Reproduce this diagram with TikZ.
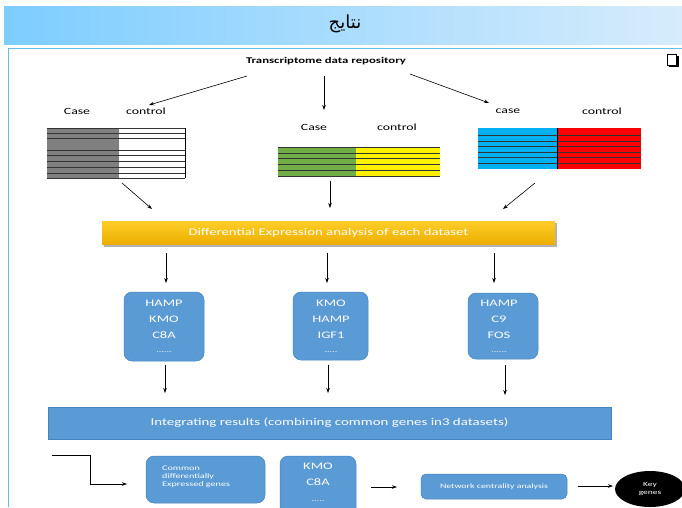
\documentclass[tikz,border=0pt]{standalone}
\usepackage{fontspec}
\setmainfont{Carlito}[FakeStretch=1.45]
\newfontfamily\arabicfont[Script=Arabic]{DejaVu Sans}
\TeXXeTstate=1
\usetikzlibrary{arrows.meta,shapes.geometric}
\definecolor{boxblue}{RGB}{91,155,213}
\definecolor{boxedge}{RGB}{70,130,190}
\definecolor{framecol}{RGB}{100,190,235}
\definecolor{titleL}{RGB}{125,205,255}
\definecolor{titleR}{RGB}{215,236,252}
\definecolor{tgreen}{RGB}{112,173,71}
\definecolor{tcyan}{RGB}{0,176,240}
\definecolor{ybartop}{RGB}{255,205,40}
\definecolor{ybarbot}{RGB}{236,175,0}
\tikzset{
  arr/.style={-{Stealth[length=5pt,width=3.5pt]},line width=0.6pt},
  genebox/.style={draw=boxedge,fill=boxblue,rounded corners=8pt,line width=0.5pt},
  lbl/.style={font=\fontsize{9.5}{11}\selectfont,inner sep=0pt},
  gtxt/.style={font=\fontsize{10}{12}\selectfont,text=white,inner sep=0pt},
  dtxt/.style={font=\fontsize{7}{8}\selectfont,text=white,inner sep=0pt},
  rowline/.style={line width=0.6pt,black!80}
}
\begin{document}
\begin{tikzpicture}[x=1pt,y=-1pt]
\useasboundingbox (0,0) rectangle (682,507);
\fill[white] (0,0) rectangle (682,507);
% title bar
\shade[left color=titleL,right color=titleR] (4,6) rectangle (682,44);
\node (title) at (345,24) {\arabicfont\fontsize{18}{20}\selectfont\beginR نتايج\endR};
% frame
\draw[framecol,line width=0.8pt] (8,507) -- (8,48) -- (682,48);
% checkbox
\fill[black] (669,56) rectangle (679,67);
\draw[black,fill=white,line width=0.6pt] (667,54) rectangle (676,65);
% source
\node[font=\bfseries\fontsize{8.8}{10}\selectfont,inner sep=1pt] (repo) at (326,61) {Transcriptome data repository};
\coordinate (r1) at (247,76); \coordinate (t1) at (149,105);
\coordinate (r2) at (324,76); \coordinate (t2) at (324,110);
\coordinate (r3) at (410,74); \coordinate (t3) at (489,103);
\draw[arr] (r1) -- (t1);
\draw[arr] (r2) -- (t2);
\draw[arr] (r3) -- (t3);
% left dataset
\node[lbl] (caseA) at (77,111) {Case};
\node[lbl] (ctrlA) at (146,111) {control};
\fill[gray] (47,128) rectangle (119,178);
\fill[white] (119,128) rectangle (185,178);
\foreach \yy in {128,133,138,150,155,161,167,173,178}
  \draw[rowline] (47,\yy) -- (185,\yy);
\draw[line width=0.6pt] (185,128) -- (185,178);
% middle dataset
\node[lbl] (caseB) at (314,127) {Case};
\node[lbl] (ctrlB) at (397,127) {control};
\fill[tgreen] (278,147) rectangle (356,176);
\fill[yellow] (356,147) rectangle (440,176);
\foreach \yy in {147,153,158,164,170,176}
  \draw[rowline] (278,\yy) -- (440,\yy);
% right dataset
\node[lbl] (caseC) at (508,111) {case};
\node[lbl] (ctrlC) at (602,111) {control};
\fill[tcyan] (478,128) rectangle (557,169);
\fill[red] (557,128) rectangle (641,169);
\foreach \yy in {135,141,146,152,157,163}
  \draw[rowline] (478,\yy) -- (641,\yy);
\draw[line width=0.6pt] (557,128) -- (557,169);
% arrows to DE bar
\coordinate (a1) at (122,183); \coordinate (b1) at (152,209);
\coordinate (a2) at (330,181); \coordinate (b2) at (330,208);
\coordinate (a3) at (535,183); \coordinate (b3) at (503,209);
\draw[arr] (a1) -- (b1);
\draw[arr] (a2) -- (b2);
\draw[arr] (a3) -- (b3);
% DE bar
\fill[black!30] (104,223) rectangle (557,247);
\node[shade,top color=ybartop,bottom color=ybarbot,minimum width=453pt,minimum height=23pt,inner sep=0pt,text=white,font=\fontsize{10.2}{12}\selectfont] (de) at (328.5,232.5) {Differential Expression analysis of each dataset};
% gene boxes
\coordinate (d1) at (166,253); \coordinate (e1) at (166,283);
\coordinate (d2) at (327,253); \coordinate (e2) at (327,283);
\coordinate (d3) at (494,253); \coordinate (e3) at (494,283);
\draw[arr] (d1) -- (e1);
\draw[arr] (d2) -- (e2);
\draw[arr] (d3) -- (e3);
\node[genebox,minimum width=80pt,minimum height=69pt] (g1) at (164,326.5) {};
\node[genebox,minimum width=75pt,minimum height=68pt] (g2) at (330.5,326) {};
\node[genebox,minimum width=70pt,minimum height=66pt] (g3) at (503,326) {};
\node[gtxt] (g1a) at (164,303) {HAMP};
\node[gtxt] (g1b) at (164,319) {KMO};
\node[gtxt] (g1c) at (164,335) {C8A};
\node[dtxt] (g1d) at (164,352) {......};
\node[gtxt] (g2a) at (331,303) {KMO};
\node[gtxt] (g2b) at (331,319) {HAMP};
\node[gtxt] (g2c) at (331,335) {IGF1};
\node[dtxt] (g2d) at (331,352) {.....};
\node[gtxt] (g3a) at (499,303) {HAMP};
\node[gtxt] (g3b) at (499,319) {C9};
\node[gtxt] (g3c) at (499,335) {FOS};
\node[dtxt] (g3d) at (499,352) {......};
% arrows to integrating bar
\coordinate (f1) at (165,365); \coordinate (h1) at (165,393);
\coordinate (f2) at (328,365); \coordinate (h2) at (328,393);
\coordinate (f3) at (505,365); \coordinate (h3) at (505,395);
\draw[arr] (f1) -- (h1);
\draw[arr] (f2) -- (h2);
\draw[arr] (f3) -- (h3);
\node[draw=boxedge,fill=boxblue,minimum width=563pt,minimum height=32pt,inner sep=0pt,text=white,font=\fontsize{10.3}{12}\selectfont] (integ) at (329.5,423) {Integrating results (combining common genes in3 datasets)};
% bottom row
\coordinate (s0) at (52,455);
\coordinate (s1) at (90,455);
\coordinate (k0) at (90,484);
\node[genebox,minimum width=119pt,minimum height=47pt] (common) at (205.5,479.5) {};
\node[font=\fontsize{7}{8.2}\selectfont,text=white,align=left,anchor=west,inner sep=0pt] (commontxt) at (162,477) {Common\\differentially\\Expressed genes};
\node[genebox,minimum width=76pt,minimum height=60pt] (kmo) at (318,486) {};
\node[gtxt] (kmoa) at (318,466) {KMO};
\node[gtxt] (kmob) at (318,482) {C8A};
\node[dtxt] (kmoc) at (318,501) {.....};
\node[genebox,rounded corners=5pt,minimum width=146pt,minimum height=25pt,inner sep=0pt,text=white,font=\fontsize{6.8}{8}\selectfont] (net) at (494,486.5) {Network centrality analysis};
\node[ellipse,fill=black,minimum width=70pt,minimum height=36pt,inner sep=0pt,text=white,align=center,font=\fontsize{6.5}{7.5}\selectfont] (key) at (650,489) {Key\\genes};
\coordinate (k1) at (127,484);
\coordinate (m0) at (371,487); \coordinate (m1) at (397,487);
\coordinate (n0) at (578,486); \coordinate (n1) at (613,486);
\draw[line width=0.6pt] (s0) -- (s1) -- (k0);
\draw[arr] (k0) -- (k1);
\draw[arr] (m0) -- (m1);
\draw[arr] (n0) -- (n1);
\end{tikzpicture}
\end{document}
